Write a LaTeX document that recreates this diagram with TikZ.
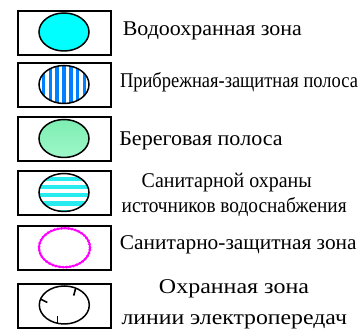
\documentclass[tikz,border=0pt]{standalone}
\usepackage{fontspec}
\usepackage{graphicx}
\setmainfont{Liberation Serif}
\usetikzlibrary{shapes.geometric,decorations.markings}
\definecolor{stripeblue}{RGB}{0,128,255}
\definecolor{zcyan}{RGB}{0,255,255}
\definecolor{stripecyan}{RGB}{40,235,240}
\definecolor{gtop}{RGB}{125,238,178}
\definecolor{gbot}{RGB}{158,247,200}
\definecolor{zmag}{RGB}{255,0,255}
\newsavebox\fwbox
\newcommand{\fw}[2]{\sbox\fwbox{#2}\pgfmathsetmacro\fwr{#1/\wd\fwbox}\scalebox{\fwr}[1]{\usebox\fwbox}}
\tikzset{
  legbox/.style={draw=black, line width=2pt, rectangle, minimum width=93pt, minimum height=44pt, inner sep=0pt, outer sep=0pt},
  zone/.style={ellipse, draw=black, line width=1.5pt, minimum width=50pt, minimum height=38pt, inner sep=0pt, outer sep=0pt},
  lbl/.style={anchor=base, inner sep=0pt, outer sep=0pt, font=\fontsize{21}{24}\selectfont},
  tick/.style={line width=1.6pt}
}
\begin{document}
\begin{tikzpicture}[x=1pt,y=-1pt]
\useasboundingbox (0,0) rectangle (360,331);
% boxes
\node[legbox] (b1) at (64.5,32.8) {};
\node[legbox] (b2) at (64.5,85.3) {};
\node[legbox] (b3) at (64.5,139.5) {};
\node[legbox] (b4) at (64.5,193.5) {};
\node[legbox] (b5) at (64.5,248) {};
\node[legbox] (b6) at (64.5,306.2) {};
% ellipses
\node[zone, fill=zcyan] (e1) at (64,32) {};
\node[zone, fill=white, path picture={
  \foreach \i in {-3,...,3}{
    \fill[stripeblue] ([xshift=\i*6.8pt-1.8pt,yshift=25pt]path picture bounding box.center) rectangle ++(3.6,50);
  }}] (e2) at (64,84.5) {};
\node[zone, top color=gtop, bottom color=gbot] (e3) at (64,138.5) {};
\node[zone, fill=white, path picture={
  \foreach \i in {-2,...,2}{
    \fill[stripecyan] ([xshift=-30pt,yshift=-2.8pt-\i*8.2pt+2.15pt]path picture bounding box.center) rectangle ++(60,4.3);
  }}] (e4) at (64,192.5) {};
\node[zone, draw=zmag, line width=1.8pt, minimum width=51pt, minimum height=39pt,
  postaction={decorate, decoration={markings, mark=between positions 0 and 1 step 3.5pt with {\fill[zmag] (0,0) circle (1.5pt);}}}] (e5) at (64.5,247.7) {};
\node[zone] (e6) at (64.3,305) {};
\draw[tick] (e6.56) -- ++(-2,7.5);
\draw[tick] (e6.166) -- ++(6.8,3.4);
\draw[tick] (e6.250) -- ++(0,-7.5);
% labels
\node[lbl] (t1) at (212.3,36) {\fw{179}{Водоохранная зона}};
\node[lbl] (t2) at (239,88) {\fw{238}{Прибрежная-защитная полоса}};
\node[lbl] (t3) at (201,146) {\fw{163.4}{Береговая полоса}};
\node[lbl] (t4a) at (226.7,188) {\fw{170}{Санитарной охраны}};
\node[lbl] (t4b) at (234.2,213) {\fw{225}{источников водоснабжения}};
\node[lbl] (t5) at (238.3,250) {\fw{236.7}{Санитарно-защитная зона}};
\node[lbl] (t6a) at (234,294) {\fw{150}{Охранная зона}};
\node[lbl] (t6b) at (234.3,325) {\fw{225.3}{линии электропередач}};
\end{tikzpicture}
\end{document}
